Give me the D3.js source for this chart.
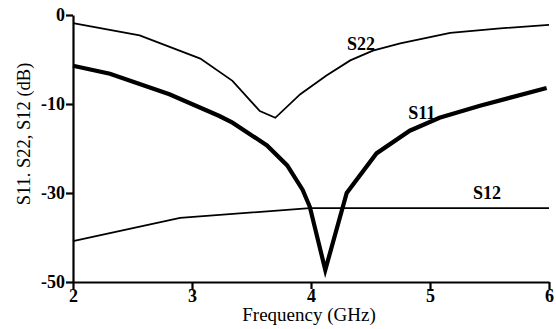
<!DOCTYPE html>
<html>
<head>
<meta charset="utf-8">
<script src="https://cdn.jsdelivr.net/npm/d3@7"></script>
<style>
  html, body { margin: 0; padding: 0; background: #fff; }
  svg { display: block; }
  svg text { font-family: "Liberation Serif", "DejaVu Serif", serif !important; fill: #000; }
</style>
</head>
<body>
<script>
// Frequency sweep (GHz) and measured S-parameters (dB)
const s22Freq = [2.0, 2.56, 3.07, 3.34, 3.57, 3.70, 3.91, 4.13, 4.33, 4.52, 4.75, 5.17, 5.59, 6.0];
const s22dB   = [-0.9, -2.3, -4.9, -7.4, -11.6, -13.1, -8.9, -6.8, -5.1, -4.0, -3.2, -2.0, -1.5, -1.1];

const s11Freq = [2.0, 2.31, 2.81, 3.23, 3.34, 3.63, 3.80, 3.93, 3.99, 4.12, 4.30, 4.55, 4.83, 5.08, 5.42, 5.98];
const s11dB   = [-5.7, -6.6, -8.9, -12.7, -14.2, -19.3, -23.8, -29.3, -33.1, -47.3, -30.0, -21.1, -16.0, -13.1, -10.4, -8.2];

const s12Freq = [2.0, 2.90, 3.99, 6.0];
const s12dB   = [-40.8, -35.6, -33.4, -33.4];

const xTicks = [2, 3, 4, 5, 6];
const yTicks = [0, -10, -30, -50];
const yTickLabels = ["0", "-10", "-30", "-50"];

const seriesNames = ["S22", "S11", "S12"];
const seriesLabelAt = [[4.42, -3.9], [4.93, -13.4], [5.48, -31.3]];

const W = 556, H = 329;
const mLeft = 73, mRight = 549, mTop = 15, mBottom = 282;

const svg = d3.select("body").append("svg").attr("width", W).attr("height", H);

const x = d3.scaleLinear().domain([2, 6]).range([mLeft, mRight]);
// Evenly spaced positions for the labelled dB levels
const y = d3.scaleLinear()
  .domain(yTicks)
  .range(yTicks.map((_, i) => mTop + i * (mBottom - mTop) / (yTicks.length - 1)));

const line = d3.line().x(d => x(d[0])).y(d => y(d[1]));

const series = [
  { f: s22Freq, v: s22dB, w: 1.8 },
  { f: s11Freq, v: s11dB, w: 4.2 },
  { f: s12Freq, v: s12dB, w: 1.8 }
];

series.forEach(s => {
  svg.append("path")
    .datum(s.f.map((f, i) => [f, s.v[i]]))
    .attr("d", line)
    .attr("fill", "none")
    .attr("stroke", "#000")
    .attr("stroke-width", s.w)
    .attr("stroke-linejoin", "miter");
});

// Axes
const xAxis = svg.append("g")
  .attr("transform", `translate(0,${mBottom})`)
  .call(d3.axisBottom(x).tickValues(xTicks).tickFormat(d3.format("d")).tickSize(7).tickSizeOuter(0));

const yAxis = svg.append("g")
  .attr("transform", `translate(${mLeft},0)`)
  .call(d3.axisLeft(y).tickValues(yTicks).tickFormat((d, i) => yTickLabels[i]).tickSize(7).tickSizeOuter(0));

[xAxis, yAxis].forEach(g => {
  g.attr("font-family", null).attr("font-size", null);
  g.selectAll("path.domain").attr("stroke", "#000").attr("stroke-width", 2.2);
  g.selectAll(".tick line").attr("stroke", "#000").attr("stroke-width", 2.2);
  g.selectAll(".tick text")
    .style("font-weight", "bold")
    .style("font-size", "18px")
    .attr("fill", "#000");
});
xAxis.selectAll(".tick text").attr("dy", "0.7em").attr("y", 7);
yAxis.selectAll(".tick text").attr("x", -8);

// Axis titles
svg.append("text")
  .attr("x", 309).attr("y", 321)
  .attr("text-anchor", "middle")
  .style("font-size", "19px")
  .text("Frequency (GHz)");

svg.append("text")
  .attr("transform", "translate(30,134) rotate(-90)")
  .attr("text-anchor", "middle")
  .style("font-size", "18.5px")
  .text("S11. S22, S12 (dB)");

// Curve labels
seriesNames.forEach((n, i) => {
  svg.append("text")
    .attr("x", x(seriesLabelAt[i][0]))
    .attr("y", y(seriesLabelAt[i][1]))
    .attr("text-anchor", "middle")
    .style("font-size", "18px")
    .style("font-weight", "bold")
    .text(n);
});
</script>
</body>
</html>
